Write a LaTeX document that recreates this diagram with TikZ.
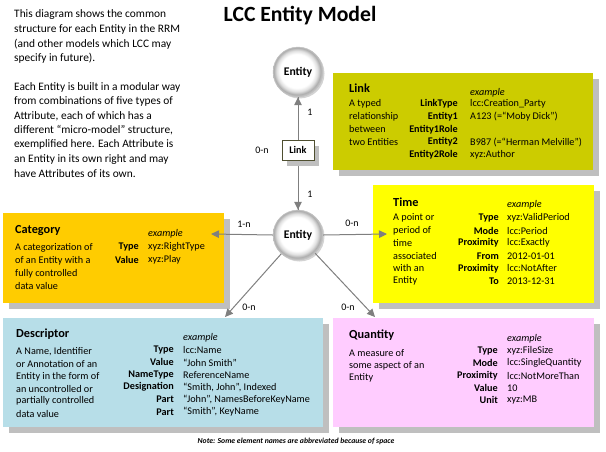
\documentclass[tikz,border=0pt]{standalone}
\usepackage{fontspec}
\setmainfont{Carlito}
\usetikzlibrary{arrows.meta,shadows}
\definecolor{linkc}{HTML}{CCCC00}
\definecolor{catc}{HTML}{FFCC00}
\definecolor{timec}{HTML}{FFFF00}
\definecolor{descc}{HTML}{B7DEE8}
\definecolor{quantc}{HTML}{FFCCFF}
\definecolor{shadowc}{HTML}{BFBFBF}
\definecolor{connc}{HTML}{7F7F7F}
\definecolor{linkborder}{HTML}{4F4F30}
\pgfdeclareradialshading{bevel}{\pgfpoint{-1.5bp}{1.5bp}}{color(0bp)=(white); color(17bp)=(white); color(20.5bp)=(gray!25); color(23.5bp)=(gray!65); color(25bp)=(gray!45); color(50bp)=(gray!45)}
\begin{document}
\begin{tikzpicture}[x=1pt,y=-1pt,
  box/.style={rectangle, draw=none, anchor=north west, inner sep=0pt,
    drop shadow={shadow xshift=6pt, shadow yshift=-6pt, fill=shadowc, opacity=1}},
  entity/.style={circle, minimum size=50pt, inner sep=0pt, shade, shading=bevel, draw=gray!50, line width=0.4pt,
    font=\bfseries\fontsize{11.7}{13}\selectfont,
    drop shadow={shadow xshift=1.5pt, shadow yshift=-1.5pt, fill=gray, opacity=0.35}},
  conn/.style={draw=connc, line width=1pt, -{Triangle[length=8pt,width=7.5pt]}},
  plain/.style={draw=connc, line width=1pt},
  card/.style={inner sep=0pt, font=\fontsize{10}{11}\selectfont},
  ttl/.style={anchor=west, inner sep=0pt, font=\bfseries\fontsize{12.3}{14}\selectfont},
  ex/.style={anchor=west, inner sep=0pt, font=\itshape\fontsize{10.2}{11}\selectfont},
  key/.style={anchor=east, inner sep=0pt, font=\bfseries\fontsize{10.2}{11}\selectfont},
  val/.style={anchor=west, inner sep=0pt, font=\fontsize{10.2}{11}\selectfont},
  desc/.style={anchor=west, inner sep=0pt, font=\fontsize{10.2}{11}\selectfont},
  intro/.style={anchor=west, inner sep=0pt, font=\fontsize{11.4}{13}\selectfont}
]
\useasboundingbox (0,0) rectangle (606,451);

% Title
\node[font=\bfseries\fontsize{21.7}{24}\selectfont, inner sep=0pt] (title) at (300,16) {LCC Entity Model};

% Intro text
\foreach \t [count=\i] in {This diagram shows the common, structure for each Entity in the RRM, {(and other models which LCC may}, {specify in future).}}
  {\node[intro] (introa\i) at (14,{15+14.45*(\i-1)}) {\t};}
\foreach \t [count=\i] in {Each Entity is built in a modular way, from combinations of five types of, {Attribute, each of which has a}, {different “micro-model” structure,}, exemplified here. Each Attribute is, an Entity in its own right and may, have Attributes of its own.}
  {\node[intro] (introb\i) at (14,{87+14.45*(\i-1)}) {\t};}

% Boxes
\node[box, fill=linkc, minimum width=260pt, minimum height=97pt] (linkbox) at (333,73) {};
\node[box, fill=catc, minimum width=221pt, minimum height=90pt] (catbox) at (3,213) {};
\node[box, fill=timec, minimum width=221pt, minimum height=118pt] (timebox) at (373,185) {};
\node[box, fill=descc, minimum width=320pt, minimum height=109pt] (descbox) at (3,318) {};
\node[box, fill=quantc, minimum width=261pt, minimum height=109pt] (quantbox) at (333,318) {};

% Link box content
\node[ttl] (linkt) at (349,88) {Link};
\node[ex] (linkex) at (470,93) {example};
\foreach \k/\v [count=\i] in {LinkType/lcc:Creation\_Party, Entity1/{A123 (=“Moby Dick”)}, Entity1Role/{}, Entity2/{B987 (=“Herman Melville”)}, Entity2Role/xyz:Author}
  {\node[key] (linkk\i) at (458,{104+12.7*(\i-1)}) {\k};
   \node[val] (linkv\i) at (470,{104+12.7*(\i-1)}) {\v};}
\foreach \t [count=\i] in {A typed, relationship, between, two Entities}
  {\node[desc] (linkd\i) at (349,{104+12.7*(\i-1)}) {\t};}

% Category content
\node[ttl] (catt) at (15,231) {Category};
\node[ex] (catex) at (148,234) {example};
\foreach \k/\v [count=\i] in {Type/xyz:RightType, Value/xyz:Play}
  {\node[key] (catk\i) at (139,{247+12.7*(\i-1)}) {\k};
   \node[val] (catv\i) at (148,{247+12.7*(\i-1)}) {\v};}
\foreach \t [count=\i] in {A categorization of, of an Entity with a, fully controlled, data value}
  {\node[desc] (catd\i) at (15,{248+12.7*(\i-1)}) {\t};}

% Time content
\node[ttl] (timet) at (393,202) {Time};
\node[ex] (timeex) at (507,205) {example};
\foreach \k/\v [count=\i] in {Type/xyz:ValidPeriod, Mode/lcc:Period, Proximity/lcc:Exactly, From/2012-01-01, Proximity/lcc:NotAfter, To/2013-12-31}
  {\node[key] (timek\i) at (499,{218+12.6*(\i-1)}) {\k};
   \node[val] (timev\i) at (507,{218+12.6*(\i-1)}) {\v};}
\foreach \t [count=\i] in {A point or, period of, time, associated, with an, Entity}
  {\node[desc] (timed\i) at (393,{218+12.6*(\i-1)}) {\t};}

% Descriptor content
\node[ttl] (desct) at (16,334) {Descriptor};
\node[ex] (descex) at (183,338) {example};
\foreach \k/\v [count=\i] in {Type/lcc:Name, Value/“John Smith”, NameType/ReferenceName, Designation/{“Smith, John”, Indexed}, Part/{“John”, NamesBeforeKeyName}, Part/{“Smith”, KeyName}}
  {\node[key] (desck\i) at (174,{350+12.4*(\i-1)}) {\k};
   \node[val] (descv\i) at (183,{350+12.4*(\i-1)}) {\v};}
\foreach \t [count=\i] in {{A Name, Identifier}, or Annotation of an, Entity in the form of, an uncontrolled or, partially controlled, data value}
  {\node[desc] (descd\i) at (16,{352+12.3*(\i-1)}) {\t};}

% Quantity content
\node[ttl] (quantt) at (349,335) {Quantity};
\node[ex] (quantex) at (507,339) {example};
\foreach \k/\v [count=\i] in {Type/xyz:FileSize, Mode/lcc:SingleQuantity, Proximity/lcc:NotMoreThan, Value/10, Unit/xyz:MB}
  {\node[key] (quantk\i) at (498,{351+12.3*(\i-1)}) {\k};
   \node[val] (quantv\i) at (507,{351+12.3*(\i-1)}) {\v};}
\foreach \t [count=\i] in {A measure of, some aspect of an, Entity}
  {\node[desc] (quantd\i) at (349,{353+12.4*(\i-1)}) {\t};}

% Entities and link
\node[entity] (top) at (298,72) {Entity};
\node[entity] (ent) at (298,235) {Entity};
\coordinate (linkpos) at (298,150);
\draw[plain] (top.south) -- (ent.north);
\draw[conn] (linkpos) -- (top.south);
\draw[conn] (linkpos) -- (ent.north);
\node[draw=linkborder, line width=0.8pt, fill=white, minimum width=32pt, minimum height=20pt, inner sep=0pt,
  font=\bfseries\fontsize{10.2}{11}\selectfont,
  drop shadow={shadow xshift=5pt, shadow yshift=-6pt, fill=shadowc, opacity=1}] (linkn) at (linkpos) {Link};

% Arrow tips
\coordinate (cattip) at (211,234);
\coordinate (timetip) at (387,234);
\coordinate (desctip) at (225,317);
\coordinate (quanttip) at (375,317);
\draw[conn] (ent.west) -- (cattip);
\draw[conn] (ent.east) -- (timetip);
\draw[conn] (ent) -- (desctip);
\draw[conn] (ent) -- (quanttip);

% Cardinalities
\node[card] (c1) at (310,112) {1};
\node[card] (c2) at (310,194) {1};
\node[card] (c3) at (262,150) {0-n};
\node[card] (c4) at (244,224) {1-n};
\node[card] (c5) at (352,223) {0-n};
\node[card] (c6) at (249,307) {0-n};
\node[card] (c7) at (348,307) {0-n};

% Note
\node[inner sep=0pt, font=\bfseries\itshape\fontsize{7.7}{9}\selectfont] (note) at (296,441) {Note: Some element names are abbreviated because of space};
\end{tikzpicture}
\end{document}
